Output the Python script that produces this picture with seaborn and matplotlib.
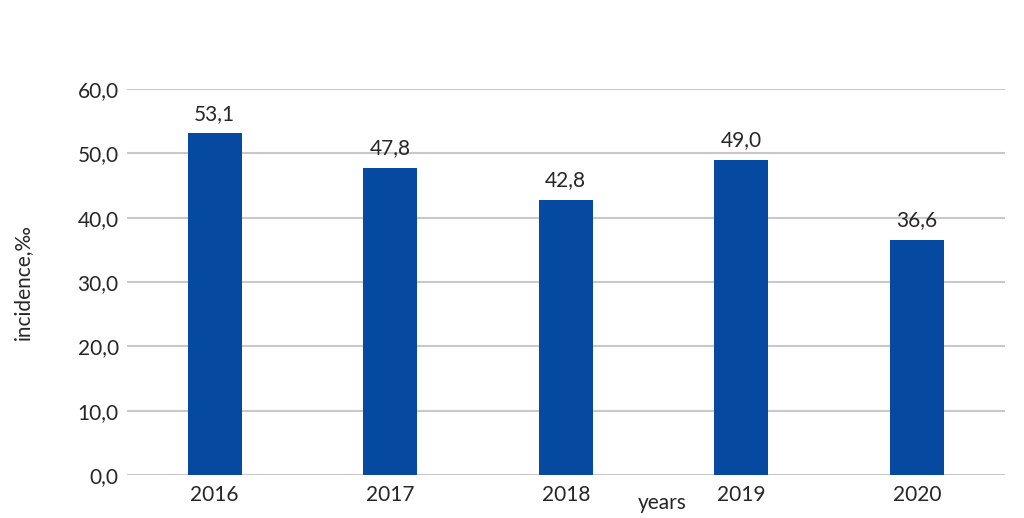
import matplotlib
matplotlib.use("Agg")
import matplotlib.pyplot as plt
import seaborn as sns
import pandas as pd

years = ["2016", "2017", "2018", "2019", "2020"]
incidence = [53.1, 47.8, 42.8, 49.0, 36.6]
yticks = [0, 10, 20, 30, 40, 50, 60]

sns.set_theme(style="white")
plt.rcParams['font.family'] = ['Lato', 'DejaVu Sans']

df = pd.DataFrame({"year": years, "incidence": incidence})

fig = plt.figure(figsize=(10.24, 5.18), dpi=100)
ax = fig.add_axes([0.124, 0.083, 0.857, 0.745])

sns.barplot(data=df, x="year", y="incidence", color="#054AA0", width=0.31,
            saturation=1, linewidth=0, ax=ax, zorder=3)

ax.set_ylim(0, 60)
ax.set_yticks(yticks)
ax.set_yticklabels([f"{v:.1f}".replace(".", ",") for v in yticks], fontsize=15)
ax.tick_params(axis='x', labelsize=15, length=0, pad=7)
ax.tick_params(axis='y', length=0, pad=6)
ax.yaxis.grid(True, color="#c8c8c8", linewidth=1.5, zorder=0)
ax.set_axisbelow(True)
for s in ax.spines.values():
    s.set_visible(False)
ax.set_xlabel("")
ax.set_ylabel("incidence,‰", fontsize=15, labelpad=32)

for p, v in zip(ax.patches, incidence):
    ax.annotate(f"{v:.1f}".replace(".", ","),
                (p.get_x() + p.get_width() / 2, p.get_height()),
                xytext=(0, 7), textcoords="offset points",
                ha="center", va="bottom", fontsize=15)

fig.text(662 / 1024, 1 - 503 / 518, "years", ha="center", va="center", fontsize=15)

fig.savefig("out.png", dpi=100)
